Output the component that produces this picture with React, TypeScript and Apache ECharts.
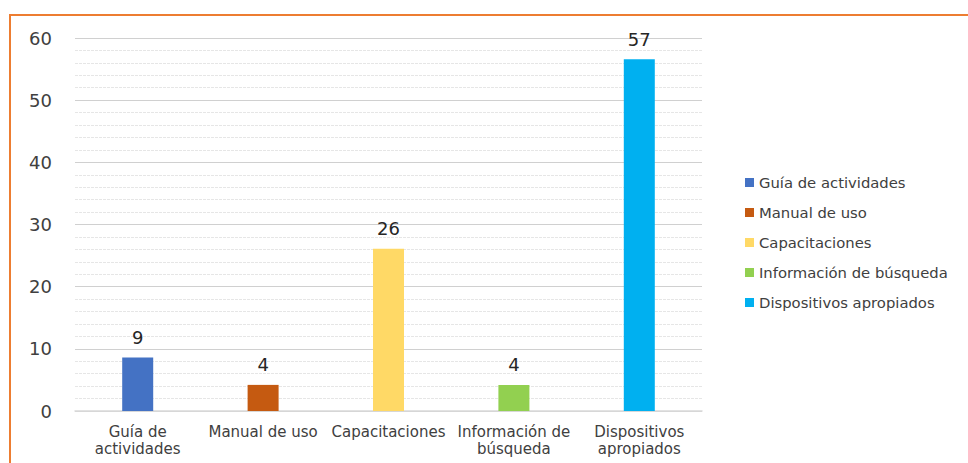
import React, { useEffect, useRef } from "react";
import * as echarts from "echarts";

const seriesNames = [
  "Guía de actividades",
  "Manual de uso",
  "Capacitaciones",
  "Información de búsqueda",
  "Dispositivos apropiados",
];
const axisLabels = [
  "Guía de\nactividades",
  "Manual de uso",
  "Capacitaciones",
  "Información de\nbúsqueda",
  "Dispositivos\napropiados",
];
const values = [8.6, 4.2, 26.1, 4.2, 56.6];
const colors = ["#4472C4", "#C55A11", "#FFD966", "#92D050", "#00B0F0"];
const yTicks = { min: 0, max: 60, interval: 10 };

export default function App() {
  const ref = useRef<HTMLDivElement>(null);
  useEffect(() => {
    document.body.style.margin = "0";
    const chart = echarts.init(ref.current!, null, { renderer: "svg" });
    const font = "'DejaVu Sans', Verdana, sans-serif";
    chart.setOption({
      animation: false,
      textStyle: { fontFamily: font },
      graphic: [
        {
          type: "rect",
          shape: { x: 10, y: 15, width: 1000, height: 500 },
          style: { fill: "none", stroke: "#ED7D31", lineWidth: 2 },
          silent: true,
        },
      ],
      grid: { left: 75, right: 266, top: 38, bottom: 52 },
      legend: {
        orient: "vertical",
        left: 740,
        top: 170,
        itemWidth: 9,
        itemHeight: 9,
        itemGap: 15,
        icon: "rect",
        data: seriesNames,
        textStyle: { fontSize: 14.8, color: "#404040", fontFamily: font },
      },
      xAxis: {
        type: "category",
        data: axisLabels,
        axisTick: { show: false },
        axisLine: { lineStyle: { color: "#D9D9D9", width: 1.5 } },
        axisLabel: {
          fontSize: 15,
          color: "#404040",
          margin: 12,
          lineHeight: 17,
          interval: 0,
        },
      },
      yAxis: {
        type: "value",
        min: yTicks.min,
        max: yTicks.max,
        interval: yTicks.interval,
        axisLabel: { fontSize: 18, color: "#404040", margin: 23 },
        axisLine: { show: false },
        axisTick: { show: false },
        splitLine: { lineStyle: { color: "#D0D0D0", width: 1.2 } },
        minorTick: { show: false, splitNumber: 5 },
        minorSplitLine: {
          show: true,
          lineStyle: { color: "#E6E6E6", width: 1, type: [3, 1] },
        },
      },
      series: seriesNames.map((name, i) => ({
        name,
        type: "bar",
        stack: "all",
        barWidth: 31,
        itemStyle: { color: colors[i] },
        data: values.map((v, j) => (j === i ? v : "-")),
        label: {
          show: true,
          position: "top",
          distance: 11,
          fontSize: 18,
          color: "#262626",
          formatter: (p: any) => String(Math.round(p.value)),
        },
      })),
    });
    return () => chart.dispose();
  }, []);
  return <div ref={ref} style={{ width: 968, height: 463 }} />;
}
